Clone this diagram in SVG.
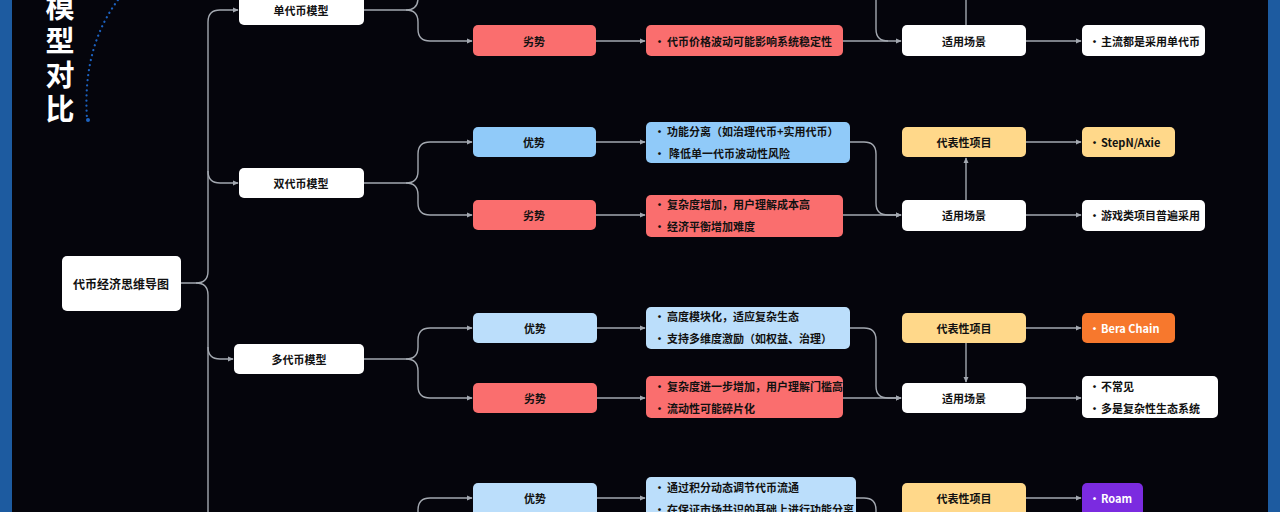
<svg xmlns="http://www.w3.org/2000/svg" width="1280" height="512" viewBox="0 0 1280 512">
<defs>
<marker id="arr" viewBox="0 0 8 8" refX="7" refY="4" markerWidth="6" markerHeight="6" orient="auto" markerUnits="userSpaceOnUse">
<path d="M0,0.5 L8,4 L0,7.5 z" fill="#a3a8b0"/>
</marker>
<style>
.bg{fill:#05050c}
.strip{fill:#1d5ba0}
.n rect{rx:5;ry:5}
.w{fill:#ffffff}
.red{fill:#fa6e6e}
.blue{fill:#90caf9}
.lblue{fill:#bbdefb}
.yel{fill:#ffd88a}
.org{fill:#f7782d}
.pur{fill:#7b2be0}
text{font-family:"Noto Sans CJK SC","Liberation Sans",sans-serif;font-size:11px;font-weight:bold;fill:#111}
.c{text-anchor:middle;dominant-baseline:central}
.l{dominant-baseline:central}
.wt{fill:#ffffff}
.title{font-size:29px;fill:#ffffff;writing-mode:vertical-rl;letter-spacing:5px}
.root{font-size:12px}
.conn path{fill:none;stroke:#a3a8b0;stroke-width:1.4}
</style>
</defs>
<rect class="bg" x="0" y="0" width="1280" height="512"/>
<rect class="strip" x="0" y="0" width="12" height="512"/>
<rect class="strip" x="1268" y="0" width="12" height="512"/>
<g id="title">
<text class="title" x="60" y="-8">模型对比</text>
</g>
<path d="M121,-4 Q82,45 87,119" fill="none" stroke="#1d62c0" stroke-width="2.2" stroke-linecap="round" stroke-dasharray="0.1 5"/>
<circle cx="88" cy="120" r="2" fill="#1d62c0"/>

<g class="conn">
<path d="M181,283 H196 Q208,283 208,271 V22 Q208,10 220,10 H238" marker-end="url(#arr)"/>
<path d="M196,283 Q208,283 208,295 V520"/>
<path d="M208,171 Q208,183 220,183 H238" marker-end="url(#arr)"/>
<path d="M208,347 Q208,359 220,359 H233" marker-end="url(#arr)"/>
<path d="M364,10 H406 Q418,10 418,-2 V-20"/>
<path d="M406,10 Q418,10 418,22 V29 Q418,41 430,41 H472" marker-end="url(#arr)"/>
<path d="M596,41 H645" marker-end="url(#arr)"/>
<path d="M843,41 H901" marker-end="url(#arr)"/>
<path d="M876,-20 V29 Q876,41 888,41"/>
<path d="M966,25 V-20"/>
<path d="M1026,41 H1081" marker-end="url(#arr)"/>
<path d="M364,183 H406 Q418,183 418,171 V154 Q418,142 430,142 H472" marker-end="url(#arr)"/>
<path d="M406,183 Q418,183 418,195 V203 Q418,215 430,215 H472" marker-end="url(#arr)"/>
<path d="M596,142 H645" marker-end="url(#arr)"/>
<path d="M596,215 H645" marker-end="url(#arr)"/>
<path d="M850,142 H864 Q876,142 876,154 V203 Q876,215 888,215 H901" marker-end="url(#arr)"/>
<path d="M843,215 H901" marker-end="url(#arr)"/>
<path d="M966,200 V158" marker-end="url(#arr)"/>
<path d="M1026,142 H1081" marker-end="url(#arr)"/>
<path d="M1026,215 H1081" marker-end="url(#arr)"/>
<path d="M364,359 H406 Q418,359 418,347 V340 Q418,328 430,328 H472" marker-end="url(#arr)"/>
<path d="M406,359 Q418,359 418,371 V386 Q418,398 430,398 H472" marker-end="url(#arr)"/>
<path d="M597,328 H645" marker-end="url(#arr)"/>
<path d="M597,398 H645" marker-end="url(#arr)"/>
<path d="M850,328 H864 Q876,328 876,340 V386 Q876,398 888,398 H901" marker-end="url(#arr)"/>
<path d="M843,398 H901" marker-end="url(#arr)"/>
<path d="M966,343 V382" marker-end="url(#arr)"/>
<path d="M1026,328 H1081" marker-end="url(#arr)"/>
<path d="M1026,398 H1081" marker-end="url(#arr)"/>
<path d="M418,530 V510 Q418,498 430,498 H472" marker-end="url(#arr)"/>
<path d="M597,498 H645" marker-end="url(#arr)"/>
<path d="M856,498 H864 Q876,498 876,510 V530"/>
<path d="M1026,498 H1081" marker-end="url(#arr)"/>
</g>

<g id="root" class="n"><rect class="w" x="62" y="256" width="119" height="55"/><text class="c root" x="121" y="283">代币经济思维导图</text></g>

<g id="single" class="n"><rect class="w" x="239" y="-5" width="125" height="30"/><text class="c" x="301" y="10">单代币模型</text></g>
<g id="single-con" class="n"><rect class="red" x="473" y="25" width="123" height="31"/><text class="c" x="534" y="41">劣势</text></g>
<g id="single-con-d" class="n"><rect class="red" x="646" y="25" width="197" height="31"/><text class="l" x="654" y="41">•</text><text class="l" x="667" y="41">代币价格波动可能影响系统稳定性</text></g>
<g id="single-use" class="n"><rect class="w" x="902" y="25" width="124" height="31"/><text class="c" x="964" y="41">适用场景</text></g>
<g id="single-use-d" class="n"><rect class="w" x="1082" y="25" width="123" height="31"/><text class="l" x="1089" y="41">•</text><text class="l" x="1101" y="41">主流都是采用单代币</text></g>

<g id="dual" class="n"><rect class="w" x="239" y="168" width="125" height="30"/><text class="c" x="301" y="183">双代币模型</text></g>
<g id="dual-pro" class="n"><rect class="blue" x="473" y="127" width="123" height="30"/><text class="c" x="534" y="142">优势</text></g>
<g id="dual-con" class="n"><rect class="red" x="473" y="200" width="123" height="30"/><text class="c" x="534" y="215">劣势</text></g>
<g id="dual-pro-d" class="n"><rect class="blue" x="646" y="122" width="204" height="41"/><text class="l" x="654" y="131">•</text><text class="l" x="667" y="131">功能分离（如治理代币+实用代币）</text><text class="l" x="654" y="153">•</text><text class="l" x="669" y="153">降低单一代币波动性风险</text></g>
<g id="dual-con-d" class="n"><rect class="red" x="646" y="195" width="197" height="42"/><text class="l" x="654" y="204">•</text><text class="l" x="667" y="204">复杂度增加，用户理解成本高</text><text class="l" x="654" y="226">•</text><text class="l" x="667" y="226">经济平衡增加难度</text></g>
<g id="dual-rep" class="n"><rect class="yel" x="902" y="127" width="124" height="30"/><text class="c" x="964" y="142">代表性项目</text></g>
<g id="dual-rep-d" class="n"><rect class="yel" x="1082" y="127" width="93" height="30"/><text class="l" x="1089" y="142">•</text><text class="l" x="1101" y="142">StepN/Axie</text></g>
<g id="dual-use" class="n"><rect class="w" x="902" y="200" width="124" height="31"/><text class="c" x="964" y="215">适用场景</text></g>
<g id="dual-use-d" class="n"><rect class="w" x="1082" y="200" width="123" height="31"/><text class="l" x="1089" y="215">•</text><text class="l" x="1101" y="215">游戏类项目普遍采用</text></g>

<g id="multi" class="n"><rect class="w" x="234" y="344" width="130" height="30"/><text class="c" x="299" y="359">多代币模型</text></g>
<g id="multi-pro" class="n"><rect class="lblue" x="473" y="313" width="124" height="30"/><text class="c" x="535" y="328">优势</text></g>
<g id="multi-con" class="n"><rect class="red" x="473" y="383" width="124" height="30"/><text class="c" x="535" y="398">劣势</text></g>
<g id="multi-pro-d" class="n"><rect class="lblue" x="646" y="307" width="204" height="42"/><text class="l" x="654" y="316">•</text><text class="l" x="667" y="316">高度模块化，适应复杂生态</text><text class="l" x="654" y="338">•</text><text class="l" x="667" y="338">支持多维度激励（如权益、治理）</text></g>
<g id="multi-con-d" class="n"><rect class="red" x="646" y="376" width="197" height="42"/><text class="l" x="654" y="386">•</text><text class="l" x="667" y="386">复杂度进一步增加，用户理解门槛高</text><text class="l" x="654" y="408">•</text><text class="l" x="667" y="408">流动性可能碎片化</text></g>
<g id="multi-rep" class="n"><rect class="yel" x="902" y="313" width="124" height="30"/><text class="c" x="964" y="328">代表性项目</text></g>
<g id="multi-rep-d" class="n"><rect class="org" x="1082" y="313" width="93" height="30"/><text class="l wt" x="1089" y="328">•</text><text class="l wt" x="1101" y="328">Bera Chain</text></g>
<g id="multi-use" class="n"><rect class="w" x="902" y="383" width="124" height="30"/><text class="c" x="964" y="398">适用场景</text></g>
<g id="multi-use-d" class="n"><rect class="w" x="1082" y="376" width="136" height="42"/><text class="l" x="1089" y="386">•</text><text class="l" x="1101" y="386">不常见</text><text class="l" x="1089" y="408">•</text><text class="l" x="1101" y="408">多是复杂性生态系统</text></g>

<g id="hybrid-pro" class="n"><rect class="lblue" x="473" y="483" width="124" height="40"/><text class="c" x="535" y="498">优势</text></g>
<g id="hybrid-pro-d" class="n"><rect class="lblue" x="646" y="477" width="210" height="50"/><text class="l" x="654" y="487">•</text><text class="l" x="667" y="487">通过积分动态调节代币流通</text><text class="l" x="654" y="509">•</text><text class="l" x="667" y="509">在保证市场共识的基础上进行功能分离</text></g>
<g id="hybrid-rep" class="n"><rect class="yel" x="902" y="483" width="124" height="40"/><text class="c" x="964" y="498">代表性项目</text></g>
<g id="hybrid-rep-d" class="n"><rect class="pur" x="1082" y="483" width="61" height="40"/><text class="l wt" x="1089" y="498">•</text><text class="l wt" x="1101" y="498">Roam</text></g>
</svg>
